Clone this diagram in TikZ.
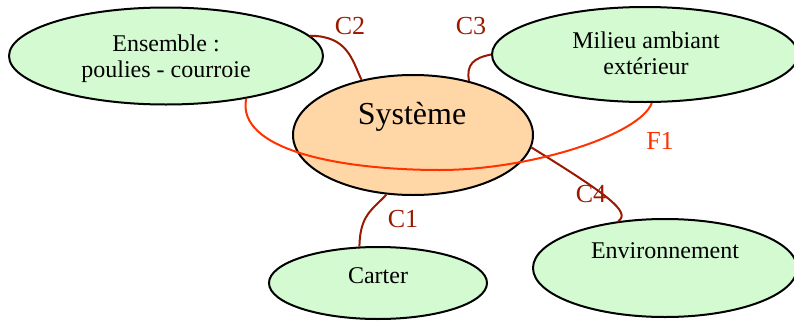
\documentclass[tikz,border=0pt]{standalone}
\usepackage{fontspec}
\setmainfont{Liberation Serif}
\usetikzlibrary{shapes.geometric}
\definecolor{vert}{HTML}{D4FAD2}
\definecolor{peche}{HTML}{FFD6A6}
\definecolor{brique}{HTML}{991A00}
\definecolor{rouge}{HTML}{FF3300}
\begin{document}
\begin{tikzpicture}[x=0.5pt, y=-0.5pt,
                  bulle/.style={ellipse, draw, line width=1pt, fill=vert, inner sep=0pt},
                  texte/.style={font=\fontsize{12}{13}\selectfont, align=center},
                  lien/.style={line width=1pt, draw=brique},
                  etiq/.style={font=\fontsize{13}{15}\selectfont, text=brique}]
\useasboundingbox (0,0) rectangle (794,322);
% les bulles
\node[bulle, minimum width=157pt, minimum height=48.5pt] (ens) at (166,56) {};
\node[bulle, fill=peche, minimum width=120pt, minimum height=60pt] (sys) at (413,135) {};
\node[bulle, minimum width=153pt, minimum height=47.5pt] (mil) at (645,54.5) {};
\node[bulle, minimum width=109pt, minimum height=36pt] (car) at (378,283) {};
\node[bulle, minimum width=132pt, minimum height=49pt] (env) at (665,268) {};
% leurs textes
\node[texte] (tens) at (166,59) {Ensemble :\\poulies - courroie};
\node[texte, font=\fontsize{16}{18}\selectfont] (tsys) at (412,117) {Système};
\node[texte] (tmil) at (646,53) {Milieu ambiant\\extérieur};
\node[texte] (tcar) at (378,276) {Carter};
\node[texte] (tenv) at (665,251) {Environnement};
% les liens
\draw[lien] (ens.8) .. controls (348,36) and (352,60) .. (sys.133);
\draw[lien] (sys.44) .. controls (466,64) and (474,58) .. (mil.180);
\draw[lien] (sys.354) .. controls (605,193) and (632,212) .. (env.135);
\draw[lien] (sys.246) .. controls (372,210) and (360,215) .. (car.117);
\draw[lien, draw=rouge] (ens.332) .. controls (236,150) and (340,170) .. (440,170)
                        .. controls (530,170) and (640,135) .. (mil.278);
% les etiquettes
\foreach \n/\x/\y in {C1/403/219, C2/350/26, C3/471/26, C4/591/194}
   \node[etiq] (\n) at (\x,\y) {\n};
\node[etiq, text=rouge] (F1) at (660,141) {F1};
\end{tikzpicture}
\end{document}
